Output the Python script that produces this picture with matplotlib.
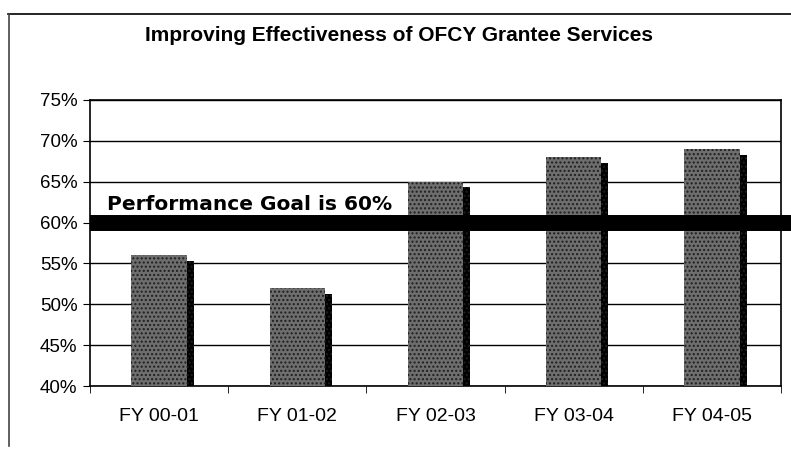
import matplotlib
matplotlib.use('Agg')
import matplotlib.pyplot as plt
import matplotlib.patheffects as pe
from matplotlib.lines import Line2D

plt.rcParams['font.family'] = ['Liberation Sans', 'DejaVu Sans']

years = ['FY 00-01', 'FY 01-02', 'FY 02-03', 'FY 03-04', 'FY 04-05']
effectiveness = [56, 52, 65, 68, 69]
goal = 60
y_ticks = [40, 45, 50, 55, 60, 65, 70, 75]

fig = plt.figure(figsize=(7.91, 4.5), dpi=100)
ax = fig.add_axes([0.1138, 0.1422, 0.8736, 0.6356])

x = range(len(years))
bars = ax.bar(x, effectiveness, width=0.40, color='#6e6e6e',
              edgecolor='none', hatch='....', zorder=3)
for b in bars:
    b._hatch_color = (0.12, 0.12, 0.12, 1.0)
    b.set_path_effects([pe.SimplePatchShadow(offset=(5, -4), shadow_rgbFace='black', alpha=1.0),
                        pe.Normal()])

ax.set_ylim(40, 75)
ax.set_xlim(-0.5, len(years) - 0.5)
ax.set_yticks(y_ticks)
ax.set_yticklabels([f'{v}%' for v in y_ticks], fontsize=13.5)
ax.set_xticks(list(x))
ax.set_xticklabels(years, fontsize=14)
ax.tick_params(axis='x', length=0, pad=16)
ax.set_xticks([i + 0.5 for i in range(-1, len(years))], minor=True)
ax.tick_params(axis='x', which='minor', length=5, direction='out', color='black')
ax.tick_params(axis='y', length=5, direction='out', pad=4)
ax.yaxis.grid(True, color='black', linewidth=1.0, zorder=1)
ax.set_axisbelow(True)
for s in ax.spines.values():
    s.set_color('black')
    s.set_linewidth(1.2)

# goal band
ax.axhline(goal, xmin=0, xmax=1.02, color='black', linewidth=11.5, zorder=5,
           clip_on=False, solid_capstyle='butt')
ax.text(0.025, goal + 2.2, 'Performance Goal is 60%', fontsize=14.5, fontweight='bold',
        family=['DejaVu Sans'], transform=ax.get_yaxis_transform(),
        ha='left', va='center', zorder=6)

fig.text(0.505, 0.922, 'Improving Effectiveness of OFCY Grantee Services',
         ha='center', va='center', fontsize=15, fontweight='bold')

# outer chart frame
fig.add_artist(Line2D([0.010, 1.0], [0.969, 0.969], color='black', linewidth=1.2))
fig.add_artist(Line2D([0.011, 0.011], [0.969, 0.01], color='#444444', linewidth=1.2))

fig.savefig('out.png', dpi=100)
